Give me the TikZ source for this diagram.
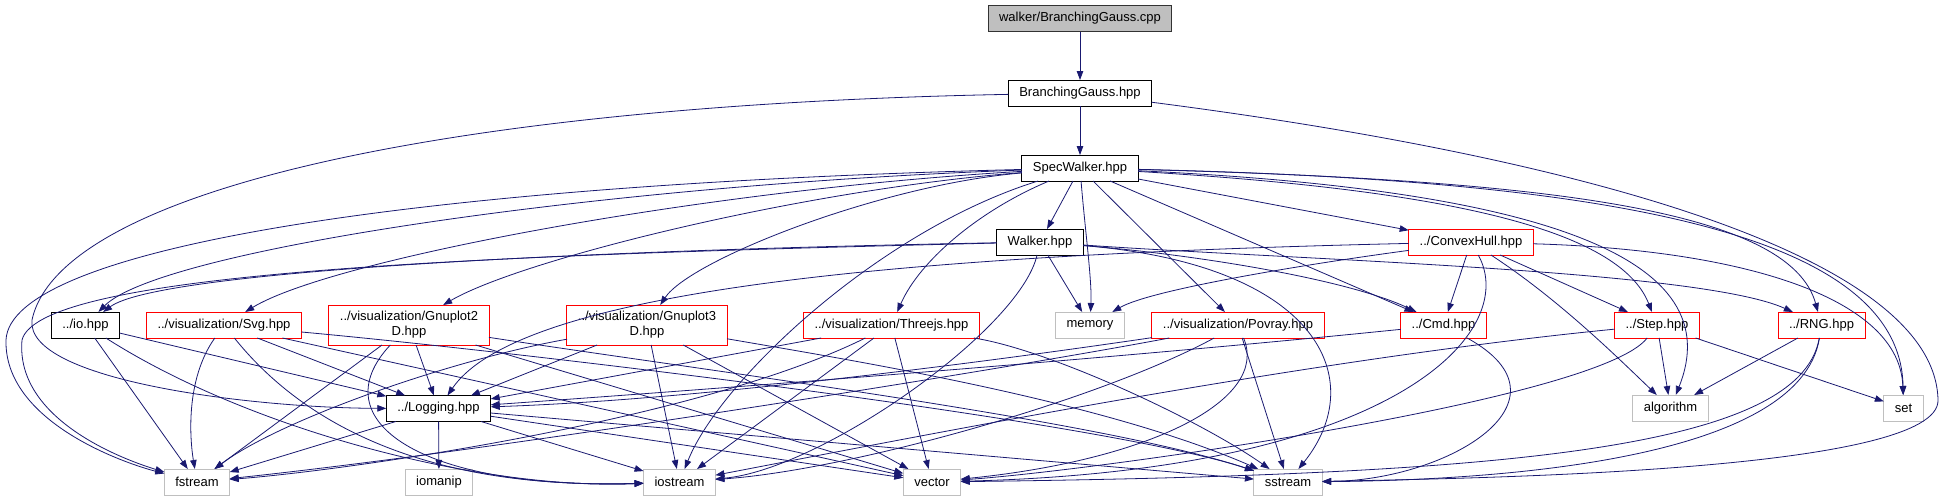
\documentclass[tikz,border=0pt]{standalone}
\usepackage{fontspec}
\setmainfont{Liberation Sans}
\usetikzlibrary{arrows.meta}
\definecolor{edgeblue}{HTML}{191970}
\definecolor{boxgray}{HTML}{BFBFBF}
\definecolor{boxred}{HTML}{FF0000}

\begin{document}
\begin{tikzpicture}[x=1pt, y=-1pt,
    file/.style={rectangle, draw=black, fill=white, line width=1pt,
                 minimum height=26pt, inner xsep=11pt, inner ysep=2pt,
                 outer sep=0pt, align=center,
                 font=\fontsize{13pt}{15pt}\selectfont},
    redfile/.style={file, draw=boxred},
    sysfile/.style={file, draw=boxgray},
    mainfile/.style={file, fill=boxgray, draw=black!80},
    tall/.style={minimum height=40pt},
    arr/.style={-{Triangle[length=9pt, width=6.5pt]}, line width=0.8pt, color=edgeblue}
  ]
    \useasboundingbox (0,0) rectangle (1945,501);

    % files
    \node[mainfile] (cpp) at (1080,18.5) {walker/BranchingGauss.cpp};
    \node[file] (bg) at (1080,93) {BranchingGauss.hpp};
    \node[file] (spec) at (1080,168) {SpecWalker.hpp};
    \node[file] (walker) at (1040,242) {Walker.hpp};
    \node[redfile] (hull) at (1471,242) {../ConvexHull.hpp};

    \node[file] (io) at (85.5,325) {../io.hpp};
    \node[redfile] (svg) at (224,325) {../visualization/Svg.hpp};
    \node[redfile, tall] (gp2) at (409,325) {../visualization/Gnuplot2\\D.hpp};
    \node[redfile, tall] (gp3) at (647,325) {../visualization/Gnuplot3\\D.hpp};
    \node[redfile] (three) at (891.5,325) {../visualization/Threejs.hpp};
    \node[sysfile] (memory) at (1090,325) {memory};
    \node[redfile] (povray) at (1238,325) {../visualization/Povray.hpp};
    \node[redfile] (cmd) at (1443.5,325) {../Cmd.hpp};
    \node[redfile] (step) at (1657,325) {../Step.hpp};
    \node[redfile] (rng) at (1821.5,325) {../RNG.hpp};

    \node[file] (logging) at (438.5,408.5) {../Logging.hpp};
    \node[sysfile] (algorithm) at (1670.5,408) {algorithm};
    \node[sysfile] (set) at (1903.5,408) {set};

    \node[sysfile] (fstream) at (197,482) {fstream};
    \node[sysfile] (iomanip) at (439,482) {iomanip};
    \node[sysfile] (iostream) at (679.5,482) {iostream};
    \node[sysfile] (vector) at (932,482) {vector};
    \node[sysfile] (sstream) at (1288,482) {sstream};

    % top
    \draw[arr] (cpp) -- (bg);
    \draw[arr] (bg) -- (spec);
    \draw[arr] (bg) .. controls (450,105) and (60,190) .. (32,320) .. controls (25,380) and (250,408) .. (logging);
    \draw[arr] (bg) .. controls (1600,160) and (1935,260) .. (1938,400) .. controls (1940,470) and (1500,478) .. (sstream);

    % SpecWalker.hpp
    \draw[arr] (spec) -- (walker);
    \draw[arr] (spec) .. controls (1085,230) and (1092,280) .. (memory);
    \draw[arr] (spec) -- (povray);
    \draw[arr] (spec) -- (cmd);
    \draw[arr] (spec) -- (hull);
    \draw[arr] (spec) .. controls (1450,190) and (1620,230) .. (step);
    \draw[arr] (spec) .. controls (1550,180) and (1790,210) .. (rng);
    \draw[arr] (spec) .. controls (1550,190) and (1730,260) .. (algorithm);
    \draw[arr] (spec) .. controls (1600,180) and (1900,230) .. (set);
    \draw[arr] (spec) .. controls (600,185) and (160,250) .. (io);
    \draw[arr] (spec) .. controls (700,190) and (330,260) .. (svg);
    \draw[arr] (spec) .. controls (800,190) and (520,260) .. (gp2);
    \draw[arr] (spec) .. controls (880,185) and (690,260) .. (gp3);
    \draw[arr] (spec) .. controls (980,210) and (920,260) .. (three);
    \draw[arr] (spec) .. controls (400,185) and (10,250) .. (6,340) .. controls (4,420) and (120,462) .. (fstream);
    \draw[arr] (spec) .. controls (880,230) and (720,380) .. (iostream);

    % Walker.hpp
    \draw[arr] (walker) .. controls (600,250) and (160,270) .. (io);
    \draw[arr] (walker) .. controls (500,255) and (40,270) .. (22,340) .. controls (15,420) and (125,460) .. (fstream);
    \draw[arr] (walker) -- (memory);
    \draw[arr] (walker) .. controls (1200,255) and (1350,280) .. (cmd);
    \draw[arr] (walker) .. controls (1300,260) and (1700,270) .. (rng);
    \draw[arr] (walker) .. controls (1320,265) and (1370,380) .. (sstream);
    \draw[arr] (walker) .. controls (1020,330) and (820,470) .. (iostream);

    % ../ConvexHull.hpp
    \draw[arr] (hull) .. controls (900,255) and (520,290) .. (logging);
    \draw[arr] (hull) .. controls (1300,265) and (1150,290) .. (memory);
    \draw[arr] (hull) -- (cmd);
    \draw[arr] (hull) -- (step);
    \draw[arr] (hull) .. controls (1560,300) and (1620,360) .. (algorithm);
    \draw[arr] (hull) .. controls (1520,330) and (1400,470) .. (vector);
    \draw[arr] (hull) .. controls (1750,250) and (1900,300) .. (set);

    % ../Step.hpp, ../RNG.hpp, ../Cmd.hpp
    \draw[arr] (step) -- (algorithm);
    \draw[arr] (step) -- (set);
    \draw[arr] (step) .. controls (1300,360) and (900,440) .. (iostream);
    \draw[arr] (step) .. controls (1600,400) and (1100,470) .. (vector);
    \draw[arr] (rng) -- (algorithm);
    \draw[arr] (rng) .. controls (1800,450) and (1500,475) .. (vector);
    \draw[arr] (rng) .. controls (1800,460) and (1500,480) .. (sstream);
    \draw[arr] (cmd) .. controls (1100,360) and (700,390) .. (logging);
    \draw[arr] (cmd) .. controls (1580,400) and (1450,480) .. (sstream);

    % visualization
    \draw[arr] (povray) .. controls (1000,360) and (700,400) .. (logging);
    \draw[arr] (povray) .. controls (1000,370) and (500,450) .. (fstream);
    \draw[arr] (povray) .. controls (1100,400) and (850,470) .. (iostream);
    \draw[arr] (povray) .. controls (1270,400) and (1150,460) .. (vector);
    \draw[arr] (povray) -- (sstream);
    \draw[arr] (three) -- (logging);
    \draw[arr] (three) .. controls (700,420) and (350,470) .. (fstream);
    \draw[arr] (three) -- (iostream);
    \draw[arr] (three) -- (vector);
    \draw[arr] (three) .. controls (1050,350) and (1200,420) .. (sstream);
    \draw[arr] (gp3) -- (logging);
    \draw[arr] (gp3) .. controls (450,360) and (280,420) .. (fstream);
    \draw[arr] (gp3) -- (iostream);
    \draw[arr] (gp3) -- (vector);
    \draw[arr] (gp3) .. controls (850,360) and (1100,400) .. (sstream);
    \draw[arr] (gp2) -- (logging);
    \draw[arr] (gp2) -- (fstream);
    \draw[arr] (gp2) .. controls (320,420) and (420,490) .. (iostream);
    \draw[arr] (gp2) -- (vector);
    \draw[arr] (gp2) .. controls (700,370) and (1100,420) .. (sstream);
    \draw[arr] (svg) -- (logging);
    \draw[arr] (svg) .. controls (185,380) and (190,440) .. (fstream);
    \draw[arr] (svg) .. controls (300,420) and (420,490) .. (iostream);
    \draw[arr] (svg) -- (vector);
    \draw[arr] (svg) .. controls (500,350) and (1100,420) .. (sstream);
    \draw[arr] (io) -- (fstream);
    \draw[arr] (io) -- (logging);
    \draw[arr] (io) .. controls (250,430) and (480,490) .. (iostream);

    % ../Logging.hpp
    \draw[arr] (logging) -- (fstream);
    \draw[arr] (logging) -- (iomanip);
    \draw[arr] (logging) -- (iostream);
    \draw[arr] (logging) -- (vector);
    \draw[arr] (logging) -- (sstream);
\end{tikzpicture}
\end{document}
